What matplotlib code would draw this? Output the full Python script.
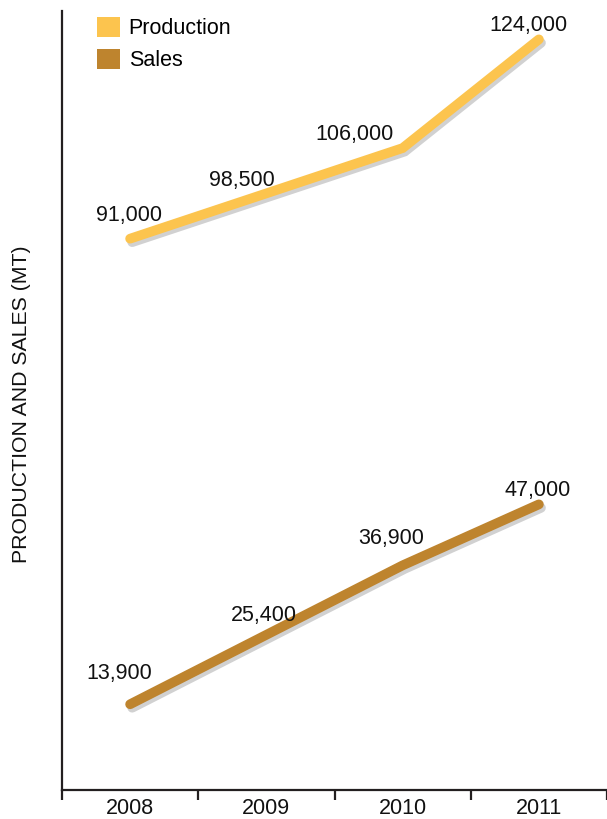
import matplotlib
matplotlib.use("Agg")
import matplotlib.pyplot as plt
import matplotlib.patheffects as pe
from matplotlib.patches import Patch

plt.rcParams['font.family'] = ['Liberation Sans', 'DejaVu Sans']

years = ["2008", "2009", "2010", "2011"]
production = [91000, 98500, 106000, 124000]
sales = [13900, 25400, 36900, 47000]
prod_labels = ["91,000", "98,500", "106,000", "124,000"]
sales_labels = ["13,900", "25,400", "36,900", "47,000"]

prod_color = "#FCC44E"
sales_color = "#BE842E"
axis_color = "#231F20"
text_color = "#111111"

# label offsets in pixels (layout)
prod_off = [(-1, 23), (-24, 13), (-48, 14), (-10, 14)]
sales_off = [(-11, 31), (-2, 19), (-11, 27), (-1, 14)]

fig = plt.figure(figsize=(6.07, 8.19), dpi=100)
ax = fig.add_axes([62/607, 1 - 790/819, 1 - 62/607, (790 - 11)/819])

x = list(range(len(years)))
shadow = [pe.SimpleLineShadow(offset=(1.5, -2.5), shadow_color='black', alpha=0.18), pe.Normal()]
for vals, col in [(production, prod_color), (sales, sales_color)]:
    ax.plot(x, vals, color=col, lw=7, solid_capstyle='round', solid_joinstyle='miter',
            path_effects=shadow, zorder=3)

fs = 15.5
for xi, v, lab, off in zip(x, production, prod_labels, prod_off):
    ax.annotate(lab, (xi, v), xytext=off, textcoords='offset pixels',
                ha='center', va='center', fontsize=fs, color=text_color, zorder=4)
for xi, v, lab, off in zip(x, sales, sales_labels, sales_off):
    ax.annotate(lab, (xi, v), xytext=off, textcoords='offset pixels',
                ha='center', va='center', fontsize=fs, color=text_color, zorder=4)

ax.set_xlim(-0.5, len(years) - 0.5)
ax.set_ylim(-300, 128700)

ax.set_xticks([i - 0.5 for i in range(len(years) + 1)])
ax.set_xticklabels([])
ax.set_xticks(x, minor=True)
ax.set_xticklabels(years, minor=True, fontsize=fs, color=text_color)
ax.tick_params(axis='x', which='major', direction='out', length=7.5, width=1.6, color=axis_color)
ax.tick_params(axis='x', which='minor', length=0, pad=6)
ax.set_yticks([])

for s in ['top', 'right']:
    ax.spines[s].set_visible(False)
for s in ['left', 'bottom']:
    ax.spines[s].set_linewidth(1.6)
    ax.spines[s].set_color(axis_color)

fig.text(22/607, 1 - 404/819, "PRODUCTION AND SALES (MT)", rotation=90,
         ha='center', va='center', fontsize=15.3, color=text_color)

handles = [Patch(facecolor=prod_color, edgecolor='none'), Patch(facecolor=sales_color, edgecolor='none')]
leg = fig.legend(handles, ["Production", "Sales"], loc='upper left',
                 bbox_to_anchor=(97/607, 1 - 17/819), frameon=False, fontsize=fs,
                 handlelength=1.07, handleheight=1.07, handletextpad=0.4,
                 labelspacing=0.42, borderpad=0, borderaxespad=0)

fig.savefig("out.png", dpi=100, facecolor='white')
